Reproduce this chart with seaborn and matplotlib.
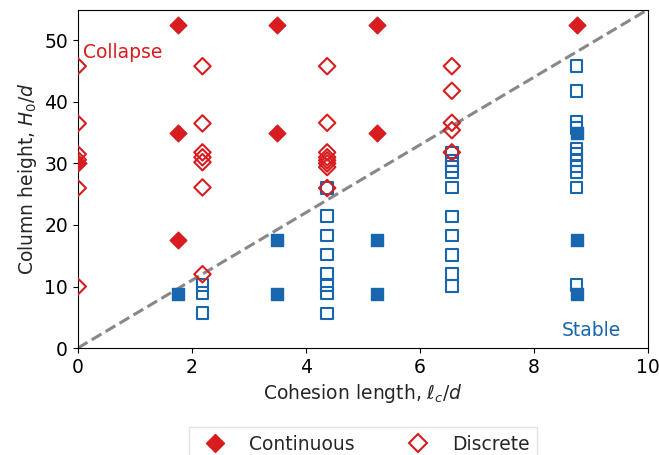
import matplotlib
matplotlib.use("Agg")
import matplotlib.pyplot as plt
from matplotlib.lines import Line2D
import numpy as np
import pandas as pd
import seaborn as sns

# Continuous model runs (filled markers)
cont_collapse_x = [0, 1.75, 1.75, 1.75, 3.5, 3.5, 5.25, 5.25, 8.75]
cont_collapse_y = [30.0, 52.5, 35.0, 17.5, 52.5, 35.0, 52.5, 35.0, 52.5]
cont_stable_x = [1.75, 3.5, 3.5, 5.25, 5.25, 8.75, 8.75, 8.75]
cont_stable_y = [8.75, 17.5, 8.75, 17.5, 8.75, 35.0, 17.5, 8.75]

# Discrete model runs (open markers)
disc_collapse_x = ([0] * 6 + [2.1875] * 7 + [4.375] * 8 + [6.5625] * 5)
disc_collapse_y = [45.8, 36.5, 31.5, 30.6, 26.0, 10.0,
                   45.8, 36.5, 31.8, 31.0, 30.2, 26.1, 12.0,
                   45.8, 36.6, 31.8, 31.0, 30.5, 30.0, 29.4, 26.0,
                   45.8, 41.8, 36.6, 35.4, 31.8]
disc_stable_x = ([2.1875] * 3 + [4.375] * 8 + [6.5625] * 10 + [8.75] * 11)
disc_stable_y = [10.2, 8.9, 5.7,
                 26.0, 21.5, 18.3, 15.2, 12.0, 10.2, 8.9, 5.6,
                 31.8, 30.5, 29.5, 28.6, 26.1, 21.4, 18.3, 15.1, 12.0, 10.1,
                 45.8, 41.8, 36.7, 35.8, 32.4, 31.5, 30.5, 29.5, 28.6, 26.1, 10.2]

threshold_slope = 5.5
x_ticks = [0, 2, 4, 6, 8, 10]
y_ticks = [0, 10, 20, 30, 40, 50]

RED = "#d81c1f"
BLUE = "#1866ae"
FS = 13.5

sns.set_style("ticks")
plt.rcParams["font.family"] = ["DejaVu Sans"]
plt.rcParams["font.size"] = FS
plt.rcParams["mathtext.fontset"] = "dejavusans"

fig = plt.figure(figsize=(6.59, 4.55), dpi=100)
ax = fig.add_axes([0.118, 0.235, 0.865, 0.744])

line_x = np.array([0, 10])
sns.lineplot(x=line_x, y=threshold_slope * line_x, ax=ax, color="#888888",
             linestyle="--", linewidth=2.2, dashes=(3.5, 2.5))

groups = [
    (disc_stable_x, disc_stable_y, "s", BLUE, True),
    (disc_collapse_x, disc_collapse_y, "D", RED, True),
    (cont_stable_x, cont_stable_y, "s", BLUE, False),
    (cont_collapse_x, cont_collapse_y, "D", RED, False),
]
for gx, gy, marker, color, hollow in groups:
    df = pd.DataFrame({"x": gx, "y": gy})
    if hollow:
        sns.scatterplot(data=df, x="x", y="y", ax=ax, marker=marker, s=70,
                        color=color, facecolor="none", edgecolor=color,
                        linewidth=1.5, zorder=3)
    else:
        sns.scatterplot(data=df, x="x", y="y", ax=ax, marker=marker, s=72,
                        color=color, edgecolor=color, linewidth=1.0, zorder=4)

ax.set_xlim(0, 10)
ax.set_ylim(0, 55)
ax.set_xticks(x_ticks)
ax.set_yticks(y_ticks)
ax.set_xlabel(r"Cohesion length, $\ell_c/d$", fontsize=FS)
ax.set_ylabel(r"Column height, $H_0/d$", fontsize=FS)
ax.tick_params(labelsize=FS, colors="black")
for sp in ax.spines.values():
    sp.set_visible(True)
    sp.set_color("black")

ax.text(0.01, 0.874, "Collapse", color=RED, transform=ax.transAxes,
        ha="left", va="center", fontsize=FS)
ax.text(0.953, 0.053, "Stable", color=BLUE, transform=ax.transAxes,
        ha="right", va="center", fontsize=FS)

handles = [
    Line2D([], [], linestyle="none", marker="D", markersize=9.5,
           color=RED, markeredgecolor=RED),
    Line2D([], [], linestyle="none", marker="D", markersize=9.5,
           markerfacecolor="none", markeredgecolor=RED, markeredgewidth=1.5),
]
fig.legend(handles, ["Continuous", "Discrete"], loc="upper center",
           bbox_to_anchor=(0.551, 0.0615), borderaxespad=0, ncol=2,
           columnspacing=2.4, fontsize=FS, frameon=True, fancybox=False,
           edgecolor="#dddddd")

fig.savefig("out.png", dpi=100)
